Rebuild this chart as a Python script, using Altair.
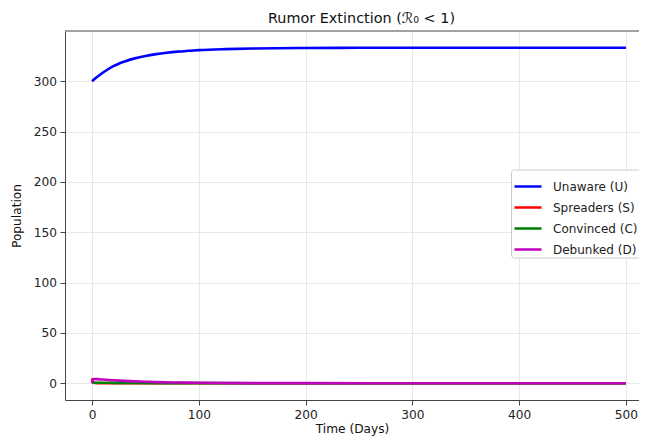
import altair as alt
import pandas as pd

# Time points (days) and read-off values
t_u = [0, 5, 10, 15, 20, 25, 30, 40, 50, 60, 70, 80, 90, 100, 125, 150, 200, 250, 300, 400, 500]
unaware = [300, 304.5, 308.5, 312, 315, 317.5, 319.5, 322.8, 325.2, 327, 328.4, 329.5, 330.3, 331, 332, 332.6, 333.1, 333.3, 333.3, 333.3, 333.3]

t_s = [0, 1, 2, 3, 5, 10, 20, 50, 100, 200, 300, 400, 500]
spreaders = [5, 1.2, 0.35, 0.12, 0.04, 0.01, 0, 0, 0, 0, 0, 0, 0]

t_c = [0, 1, 3, 10, 20, 40, 60, 100, 200, 300, 400, 500]
convinced = [0, 0.4, 0.5, 0.45, 0.35, 0.2, 0.1, 0.03, 0, 0, 0, 0]

t_d = [0, 1, 2, 5, 10, 20, 30, 40, 50, 60, 80, 100, 150, 200, 300, 400, 500]
debunked = [0, 3.8, 4.2, 4.0, 3.6, 2.9, 2.3, 1.8, 1.4, 1.1, 0.65, 0.4, 0.12, 0.04, 0, 0, 0]

names = ["Unaware (U)", "Spreaders (S)", "Convinced (C)", "Debunked (D)"]
colors = ["#0000ff", "#ff0000", "#008000", "#bf00bf"]
x_ticks = [0, 100, 200, 300, 400, 500]
y_ticks = [0, 50, 100, 150, 200, 250, 300]

frames = []
for name, t, v in zip(names, [t_u, t_s, t_c, t_d], [unaware, spreaders, convinced, debunked]):
    frames.append(pd.DataFrame({"t": t, "v": v, "series": name}))
df = pd.concat(frames, ignore_index=True)

FONT = "DejaVu Sans"
AX = "#444444"

x = alt.X("t:Q", title="Time (Days)",
          scale=alt.Scale(domain=[-25.3, 512.2], nice=False, zero=False),
          axis=alt.Axis(values=x_ticks, format="d"))
y = alt.Y("v:Q", title="Population",
          scale=alt.Scale(domain=[-16.7, 350], nice=False, zero=False),
          axis=alt.Axis(values=y_ticks, format="d"))
color = alt.Color("series:N", title=None,
                  scale=alt.Scale(domain=names, range=colors),
                  sort=names,
                  legend=alt.Legend(orient="none", legendX=446, legendY=138.5,
                                    symbolType="stroke", symbolSize=729,
                                    symbolStrokeWidth=2.5, labelFontSize=12,
                                    labelFont=FONT, labelColor="#222",
                                    rowPadding=-7, padding=2,
                                    strokeColor="#cccccc", fillColor="rgba(255,255,255,0.9)",
                                    cornerRadius=3, labelOffset=10))

layers = []
for name in names:
    layers.append(
        alt.Chart(df).transform_filter(alt.datum.series == name)
        .mark_line(strokeWidth=2.6, interpolate="monotone", clip=True)
        .encode(x=x, y=y, color=color)
    )

# top frame line (the right side of the frame lies outside the picture)
top_frame = alt.Chart(pd.DataFrame({"k": [0]})).mark_rule(color=AX, strokeWidth=1).encode(
    y=alt.value(0)
)

chart = alt.layer(*layers, top_frame).properties(
    width=574, height=369,
    title=alt.TitleParams("Rumor Extinction (ℛ₀ < 1)", font=FONT, fontSize=14.4,
                          fontWeight="normal", color="#111", offset=4, dx=9.5),
    autosize=alt.AutoSizeParams(type="none"),
    padding={"left": 57, "top": 23, "right": 0, "bottom": 37},
).configure_view(stroke=None).configure_axis(
    labelFont=FONT, titleFont=FONT, labelFontSize=12.2, titleFontSize=12.2,
    titleFontWeight="normal", labelColor="#222", titleColor="#111",
    gridColor="#e8e8e8", gridWidth=1, domainColor=AX, tickColor=AX,
    tickSize=5, labelPadding=3.5,
).configure_axisY(titlePadding=9.5).configure_axisX(titlePadding=2)

chart.save("out.html", embed_options={"renderer": "svg", "actions": False})
